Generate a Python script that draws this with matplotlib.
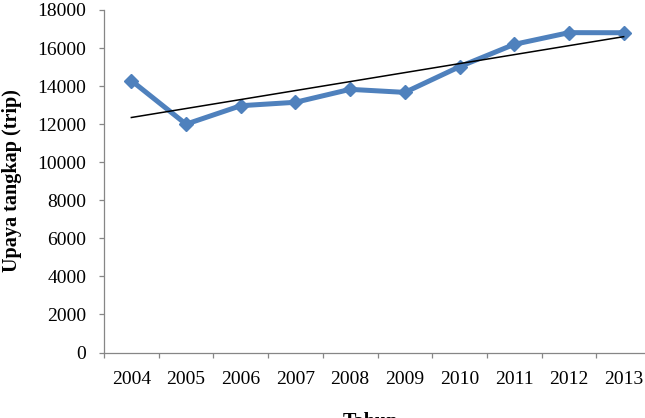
from matplotlib import pyplot as plt
import numpy as np

# data
years = ["2004", "2005", "2006", "2007", "2008", "2009", "2010", "2011", "2012", "2013"]
trips = [14290, 12000, 12970, 13150, 13830, 13670, 15020, 16195, 16810, 16805]
yticks = [0, 2000, 4000, 6000, 8000, 10000, 12000, 14000, 16000, 18000]

plt.rcParams['font.family'] = ['Liberation Serif', 'DejaVu Serif']

W, H = 645, 418
fig = plt.figure(figsize=(W / 100, H / 100), dpi=100)
# plot area in pixels: left 104, right 651 (runs off the image), top 10, bottom 352.5
ax = fig.add_axes([104 / W, (H - 352.5) / H, 547 / W, 342.5 / H])

x = np.arange(1, len(years) + 1)
y = np.array(trips)

ax.plot(x, y, color='#4F81BD', lw=3.6, marker='D', markersize=7.5,
        markeredgecolor='#4F81BD', zorder=3)

# linear trend line
a, b = np.polyfit(x, y, 1)
ax.plot(x[[0, -1]], a * x[[0, -1]] + b, color='black', lw=1.1, zorder=4)

ax.set_xlim(0.5, 10.5)
ax.set_ylim(0, 18000)
ax.set_yticks(yticks)
ax.set_yticklabels([str(v) for v in yticks])

# category boundaries get the tick marks, labels sit in the middle
ax.set_xticks(np.arange(0.5, 11, 1))
ax.set_xticklabels([])
ax.set_xticks(x, minor=True)
ax.set_xticklabels(years, minor=True)

grey = '#868686'
for side in ['top', 'right']:
    ax.spines[side].set_visible(False)
for side in ['left', 'bottom']:
    ax.spines[side].set_color(grey)
    ax.spines[side].set_linewidth(0.9)

ax.tick_params(axis='y', direction='out', length=3.6, width=0.9, color=grey,
               labelsize=14, pad=9.2)
ax.tick_params(axis='x', which='major', direction='out', length=3.6, width=0.9,
               color=grey)
ax.tick_params(axis='x', which='minor', length=0, labelsize=14, pad=13.5)

fig.text(12.5 / W, (H - 181) / H, "Upaya tangkap (trip)", rotation=90,
         ha='center', va='center', fontsize=14.5, fontweight='bold')
# the axis title sits mostly below the bottom edge, as in the reference
fig.text(370 / W, (H - 412) / H, "Tahun", ha='center', va='top',
         fontsize=14.5, fontweight='bold')

fig.savefig('out.png', dpi=100)
